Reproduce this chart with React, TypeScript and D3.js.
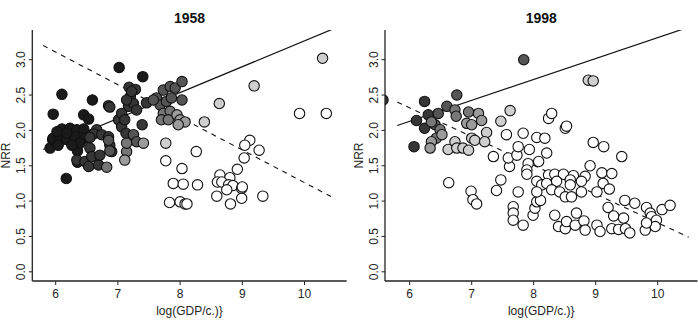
import React from 'react';
import * as d3 from 'd3';

const W = 698;
const H = 322;
const FONT = 'Liberation Sans, Arial, Helvetica, sans-serif';

const NRR_TICKS = [0, 0.5, 1, 1.5, 2, 2.5, 3];
const GDP_TICKS = [6, 7, 8, 9, 10];
const NRR_LABELS = ['0.0', '0.5', '1.0', '1.5', '2.0', '2.5', '3.0'];
const X_TITLE = 'log(GDP/c.)}';
const Y_TITLE = 'NRR';

// fill shade per group, darkest to white
const TONES = ['#1a1a1a', '#363636', '#555555', '#777777', '#9c9c9c', '#cfcfcf', '#ffffff'];

// [log GDP per capita, NRR, shade group]
const obs1958: [number, number, number][] = [
  [5.91, 1.75, 0], [5.96, 2.23, 0], [6.10, 2.51, 0], [6.17, 1.32, 0], [6.35, 1.71, 0],
  [6.35, 1.55, 0], [6.45, 2.22, 0], [6.59, 2.43, 0], [6.53, 2.16, 0], [7.02, 2.89, 0],
  [7.40, 2.76, 0], [5.95, 1.87, 0], [6.10, 2.02, 0], [6.23, 2.03, 0], [6.34, 2.01, 0],
  [6.45, 2.02, 0], [5.96, 1.89, 0], [6.07, 1.86, 0], [6.18, 1.87, 0], [6.31, 1.91, 0],
  [6.47, 1.89, 0], [6.04, 1.79, 0], [6.18, 1.96, 0], [6.02, 1.98, 0], [6.39, 1.82, 0],
  [6.26, 1.79, 0],
  [6.85, 2.35, 1], [6.87, 2.33, 1], [7.18, 2.61, 1], [7.28, 2.58, 1], [6.66, 2.01, 1],
  [6.61, 1.95, 1], [6.74, 1.94, 1], [6.55, 1.90, 1], [6.55, 1.75, 1], [6.34, 1.58, 1],
  [6.47, 1.56, 1], [6.53, 1.49, 1], [6.69, 1.51, 1], [6.58, 1.63, 1], [6.71, 1.65, 1],
  [7.01, 2.15, 1], [7.06, 2.05, 1], [7.17, 2.34, 1], [7.20, 2.48, 1], [7.25, 2.38, 1],
  [7.30, 2.29, 1], [7.46, 2.39, 1], [7.39, 2.08, 1], [7.13, 1.96, 1], [6.85, 1.91, 1],
  [6.87, 1.79, 1], [6.90, 1.70, 1], [7.06, 2.24, 1], [7.14, 2.43, 1], [7.22, 2.55, 1],
  [7.11, 2.15, 1],
  [7.62, 2.46, 2], [7.73, 2.57, 2], [7.84, 2.62, 2], [7.92, 2.60, 2], [8.03, 2.69, 2],
  [7.68, 2.36, 2], [7.78, 2.41, 2], [7.86, 2.46, 2], [8.03, 2.43, 2], [7.25, 1.94, 2],
  [7.30, 1.84, 2], [6.85, 1.86, 2], [6.87, 1.71, 2], [7.57, 2.43, 2],
  [7.73, 2.24, 3], [7.84, 2.27, 3], [7.70, 2.15, 3], [7.81, 2.15, 3], [7.14, 1.70, 3],
  [6.82, 1.48, 3], [7.14, 1.82, 3],
  [7.95, 2.22, 4], [8.00, 2.15, 4], [8.08, 2.12, 4], [7.97, 2.08, 4], [7.41, 1.82, 4],
  [7.11, 1.58, 4],
  [7.77, 1.82, 5], [8.39, 2.12, 5], [8.63, 2.38, 5], [9.19, 2.63, 5], [10.29, 3.02, 5],
  [7.77, 1.57, 6], [8.03, 1.46, 6], [8.26, 1.70, 6], [7.89, 1.25, 6], [8.05, 1.24, 6],
  [8.28, 1.23, 6], [7.83, 0.98, 6], [8.00, 0.99, 6], [8.08, 0.96, 6], [8.11, 0.96, 6],
  [9.12, 1.86, 6], [9.04, 1.79, 6], [9.27, 1.72, 6], [9.03, 1.61, 6], [8.92, 1.45, 6],
  [8.64, 1.37, 6], [8.80, 1.33, 6], [8.60, 1.27, 6], [8.67, 1.27, 6], [8.78, 1.23, 6],
  [8.85, 1.22, 6], [8.99, 1.18, 6], [9.00, 1.20, 6], [8.75, 1.16, 6], [8.59, 1.07, 6],
  [8.81, 0.96, 6], [8.99, 1.04, 6], [9.33, 1.07, 6], [9.92, 2.24, 6], [10.35, 2.24, 6],
];

const obs1998: [number, number, number][] = [
  [5.57, 2.43, 1],
  [6.24, 2.41, 1], [6.11, 2.14, 1], [6.24, 2.03, 1], [6.07, 1.77, 1], [6.30, 2.22, 1],
  [6.76, 2.50, 2], [7.84, 3.00, 2], [6.46, 2.24, 2], [6.60, 2.34, 2], [6.41, 2.08, 2],
  [6.73, 2.29, 3], [6.75, 2.20, 3], [6.35, 2.12, 3], [6.49, 2.01, 3], [6.95, 2.26, 3],
  [6.43, 1.89, 3],
  [6.52, 1.94, 4], [6.35, 1.84, 4], [6.33, 1.75, 4], [7.11, 2.24, 4], [7.16, 2.14, 4],
  [6.92, 2.10, 4], [7.00, 2.08, 4],
  [7.24, 1.97, 5], [6.73, 1.84, 5], [6.62, 1.73, 5], [6.76, 1.75, 5], [6.86, 1.75, 5],
  [6.95, 1.72, 5], [7.00, 1.89, 5], [7.05, 1.86, 5], [7.21, 1.84, 5], [7.47, 2.13, 5],
  [7.62, 2.28, 5], [8.88, 2.71, 5], [8.96, 2.70, 5],
  [6.63, 1.26, 6], [6.99, 1.14, 6], [7.02, 1.02, 6], [7.08, 0.96, 6], [7.35, 1.63, 6],
  [7.40, 1.15, 6], [7.47, 1.30, 6], [7.56, 1.94, 6], [7.61, 1.49, 6], [7.59, 1.61, 6],
  [7.73, 1.65, 6], [7.75, 1.77, 6], [7.75, 1.13, 6], [7.83, 1.96, 6], [7.93, 1.73, 6],
  [7.91, 1.53, 6], [7.89, 1.44, 6], [7.89, 1.38, 6], [7.67, 0.92, 6], [7.67, 0.83, 6],
  [7.67, 0.73, 6], [7.83, 0.66, 6], [7.99, 0.80, 6], [8.02, 0.90, 6], [8.05, 0.99, 6],
  [8.11, 1.01, 6], [8.05, 1.90, 6], [8.18, 1.89, 6], [8.08, 1.56, 6], [8.21, 1.68, 6],
  [8.24, 2.17, 6], [8.29, 2.24, 6], [8.05, 1.28, 6], [8.13, 1.23, 6], [8.05, 1.13, 6],
  [8.24, 1.37, 6], [8.34, 1.38, 6], [8.48, 1.38, 6], [8.21, 1.25, 6], [8.37, 1.28, 6],
  [8.29, 1.16, 6], [8.42, 1.13, 6], [8.51, 2.03, 6], [8.53, 2.06, 6], [8.64, 1.36, 6],
  [8.59, 1.30, 6], [8.59, 1.23, 6], [8.51, 1.06, 6], [8.61, 1.06, 6], [8.83, 1.35, 6],
  [8.77, 1.28, 6], [8.77, 1.13, 6], [8.34, 0.80, 6], [8.40, 0.64, 6], [8.51, 0.61, 6],
  [8.53, 0.71, 6], [8.69, 0.83, 6], [8.67, 0.66, 6], [8.81, 0.72, 6], [8.83, 0.59, 6],
  [8.91, 1.50, 6], [8.96, 1.83, 6], [9.13, 1.77, 6], [9.02, 1.13, 6], [9.02, 0.66, 6],
  [9.07, 0.57, 6], [9.10, 1.40, 6], [9.26, 1.39, 6], [9.12, 1.25, 6], [9.22, 1.17, 6],
  [9.20, 0.91, 6], [9.29, 0.79, 6], [9.26, 0.61, 6], [9.37, 0.60, 6], [9.42, 1.63, 6],
  [9.47, 1.01, 6], [9.45, 0.76, 6], [9.48, 0.61, 6], [9.55, 0.55, 6], [9.63, 0.97, 6],
  [9.82, 0.91, 6], [9.80, 0.59, 6], [9.88, 0.83, 6], [9.90, 0.78, 6], [9.98, 0.73, 6],
  [9.96, 0.64, 6], [9.82, 0.69, 6], [10.07, 0.88, 6], [10.20, 0.94, 6],
];

// fitted lines, evaluated at both ends of the GDP range
const trendGdp = [5.8, 10.5];
const solid1958 = [1.73, 3.45];
const dashed1958 = [3.2, 1.03];
const solid1998 = [2.07, 3.46];
const dashed1998 = [2.4, 0.49];

type PanelProps = {
  id: string;
  title: string;
  obs: [number, number, number][];
  solid: number[];
  dashed: number[];
  left: number;
  right: number;
  xDomain: [number, number];
};

function Panel({ id, title, obs, solid, dashed, left, right, xDomain }: PanelProps) {
  const top = 30;
  const bottom = 281;
  const x = d3.scaleLinear().domain(xDomain).range([left, right]);
  const y = d3.scaleLinear().domain([-0.13, 3.42]).range([bottom, top]);
  const line = d3
    .line<number>()
    .x((_, i) => x(trendGdp[i]))
    .y((d) => y(d));
  const ordered = obs.map((d, i) => ({ d, i })).sort((a, b) => a.d[2] - b.d[2] || a.i - b.i);
  const clipId = `clip-${id}`;
  const textColor = '#262626';
  const yTitleX = left - 22;
  return (
    <g>
      <defs>
        <clipPath id={clipId}>
          <rect x={left} y={top} width={right - left} height={bottom - top} />
        </clipPath>
      </defs>
      <text
        x={(left + right) / 2}
        y={23.3}
        textAnchor="middle"
        fontFamily={FONT}
        fontWeight="bold"
        fontSize={14}
        fill="#111"
      >
        {title}
      </text>
      <g clipPath={`url(#${clipId})`}>
        <path d={line(solid) || ''} fill="none" stroke="#111" strokeWidth={1.2} />
        <path
          d={line(dashed) || ''}
          fill="none"
          stroke="#111"
          strokeWidth={1.1}
          strokeDasharray="5,5"
        />
        {ordered.map(({ d, i }) => (
          <circle
            key={i}
            cx={x(d[0])}
            cy={y(d[1])}
            r={5.2}
            fill={TONES[d[2]]}
            stroke="#111"
            strokeWidth={1.1}
          />
        ))}
      </g>
      {/* axes: left and bottom box edges */}
      <line x1={left} x2={left} y1={top} y2={bottom} stroke="#222" strokeWidth={1.3} />
      <line x1={left} x2={right} y1={bottom} y2={bottom} stroke="#222" strokeWidth={1.3} />
      {NRR_TICKS.map((v, i) => (
        <g key={`y${v}`}>
          <line x1={left - 3.5} x2={left} y1={y(v)} y2={y(v)} stroke="#222" strokeWidth={1} />
          <text
            x={left - 7}
            y={y(v)}
            transform={`rotate(-90, ${left - 7}, ${y(v)})`}
            textAnchor="middle"
            fontFamily={FONT}
            fontSize={12}
            fill={textColor}
          >
            {NRR_LABELS[i]}
          </text>
        </g>
      ))}
      {GDP_TICKS.map((v) => (
        <g key={`x${v}`}>
          <line x1={x(v)} x2={x(v)} y1={bottom} y2={bottom + 4} stroke="#222" strokeWidth={1} />
          <text
            x={x(v)}
            y={297.7}
            textAnchor="middle"
            fontFamily={FONT}
            fontSize={12}
            fill={textColor}
          >
            {v}
          </text>
        </g>
      ))}
      <text
        x={(left + right) / 2}
        y={315.3}
        textAnchor="middle"
        fontFamily={FONT}
        fontSize={12}
        fill={textColor}
      >
        {X_TITLE}
      </text>
      <text
        x={yTitleX}
        y={(top + bottom) / 2}
        transform={`rotate(-90, ${yTitleX}, ${(top + bottom) / 2})`}
        textAnchor="middle"
        fontFamily={FONT}
        fontSize={12}
        fill={textColor}
      >
        {Y_TITLE}
      </text>
    </g>
  );
}

export default function App() {
  return (
    <svg
      width={W}
      height={H}
      viewBox={`0 0 ${W} ${H}`}
      style={{ position: 'absolute', left: 0, top: 0, background: '#fff' }}
    >
      <rect width={W} height={H} fill="#fff" />
      <Panel
        id="p1958"
        title="1958"
        obs={obs1958}
        solid={solid1958}
        dashed={dashed1958}
        left={32.3}
        right={346.7}
        xDomain={[5.624, 10.678]}
      />
      <Panel
        id="p1998"
        title="1998"
        obs={obs1998}
        solid={solid1998}
        dashed={dashed1998}
        left={385}
        right={697.5}
        xDomain={[5.602, 10.642]}
      />
    </svg>
  );
}
